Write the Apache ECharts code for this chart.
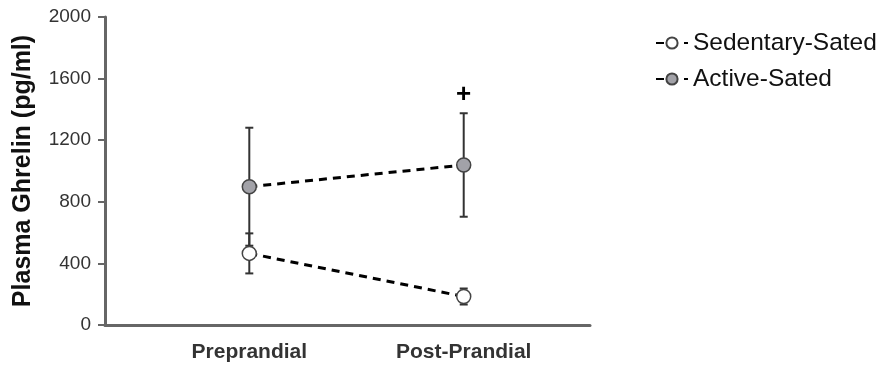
<!DOCTYPE html>
<html>
<head>
<meta charset="utf-8">
<script src="https://cdn.jsdelivr.net/npm/echarts@6/dist/echarts.min.js"></script>
<style>html,body{margin:0;padding:0;background:#fff}#c{width:885px;height:367px}</style>
</head>
<body>
<div id="c"></div>
<script>
var categories = ['Preprandial', 'Post-Prandial'];
var seriesNames = ['Sedentary-Sated', 'Active-Sated'];
var sedentaryMean = [465, 185];
var sedentarySEM = [130, 52];
var activeMean = [898, 1039];
var activeSEM = [383, 336];
var yTicks = [0, 400, 800, 1200, 1600, 2000];
var annotations = [{ cat: 1, value: 1494, text: '+' }];

var chart = echarts.init(document.getElementById('c'));

function pts(mean) { return mean.map(function (v, i) { return [i, v]; }); }
function errs(mean, sem) { return mean.map(function (v, i) { return [i, v - sem[i], v + sem[i]]; }); }

function errRender(params, api) {
  var x = api.value(0), lo = api.value(1), hi = api.value(2);
  var pLo = api.coord([x, lo]), pHi = api.coord([x, hi]);
  var cw = 4;
  var st = { stroke: '#333', lineWidth: 2 };
  return {
    type: 'group',
    children: [
      { type: 'line', shape: { x1: pLo[0], y1: pLo[1], x2: pHi[0], y2: pHi[1] }, style: st },
      { type: 'line', shape: { x1: pLo[0] - cw, y1: pLo[1], x2: pLo[0] + cw, y2: pLo[1] }, style: st },
      { type: 'line', shape: { x1: pHi[0] - cw, y1: pHi[1], x2: pHi[0] + cw, y2: pHi[1] }, style: st }
    ]
  };
}

function textRender(params, api) {
  var p = api.coord([api.value(0), api.value(1)]);
  return {
    type: 'text',
    style: {
      x: p[0], y: p[1], text: annotations[params.dataIndex].text,
      fill: '#000', font: 'bold 26px Liberation Sans, Arial, sans-serif',
      align: 'center', verticalAlign: 'middle'
    }
  };
}

var FF = 'Liberation Sans, Arial, sans-serif';

var option = {
  animation: false,
  backgroundColor: '#fff',
  textStyle: { fontFamily: FF },
  grid: { left: 105, right: 295, top: 17, bottom: 42, containLabel: false },
  legend: {
    left: 650, top: 25, orient: 'vertical',
    itemWidth: 32, itemHeight: 14, itemGap: 10,
    textStyle: { fontSize: 24.5, color: '#111', lineHeight: 26, fontFamily: FF },
    data: seriesNames
  },
  xAxis: {
    type: 'value', min: -0.673, max: 1.589,
    splitLine: { show: false },
    axisLine: { show: true, onZero: false, lineStyle: { color: '#666', width: 3 } },
    axisTick: { show: false },
    axisLabel: {
      customValues: [0, 1],
      formatter: function (v) { return categories[Math.round(v)]; },
      fontSize: 21, fontWeight: 'bold', color: '#333', margin: 17,
      fontFamily: FF
    }
  },
  yAxis: {
    type: 'value', min: 0, max: 2000, interval: 400,
    name: 'Plasma Ghrelin (pg/ml)', nameLocation: 'middle', nameGap: 69,
    nameTextStyle: { fontSize: 25, fontWeight: 'bold', color: '#111', fontFamily: FF },
    splitLine: { show: false },
    axisLine: { show: true, onZero: false, lineStyle: { color: '#666', width: 3 } },
    axisTick: { show: true, length: 7, lineStyle: { color: '#666', width: 2 } },
    axisLabel: {
      customValues: yTicks,
      formatter: function (v) { return String(v); },
      fontSize: 19, color: '#333', margin: 14,
      fontFamily: FF
    }
  },
  series: [
    {
      type: 'custom', name: 'errSed', renderItem: errRender, data: errs(sedentaryMean, sedentarySEM),
      z: 1, silent: true
    },
    {
      type: 'custom', name: 'errAct', renderItem: errRender, data: errs(activeMean, activeSEM),
      z: 1, silent: true
    },
    {
      type: 'line', name: seriesNames[0], data: pts(sedentaryMean), z: 3,
      symbol: 'circle', symbolSize: 14,
      itemStyle: { color: '#ffffff', borderColor: '#444', borderWidth: 1.5 },
      lineStyle: { color: '#000', width: 3, type: [8, 6] }
    },
    {
      type: 'line', name: seriesNames[1], data: pts(activeMean), z: 3,
      symbol: 'circle', symbolSize: 14,
      itemStyle: { color: '#a2a2a8', borderColor: '#444', borderWidth: 1.5 },
      lineStyle: { color: '#000', width: 3, type: [8, 6] }
    },
    {
      type: 'custom', name: 'annot', silent: true, z: 4, renderItem: textRender,
      data: annotations.map(function (a) { return [a.cat, a.value]; })
    }
  ]
};
chart.setOption(option);
</script>
</body>
</html>
